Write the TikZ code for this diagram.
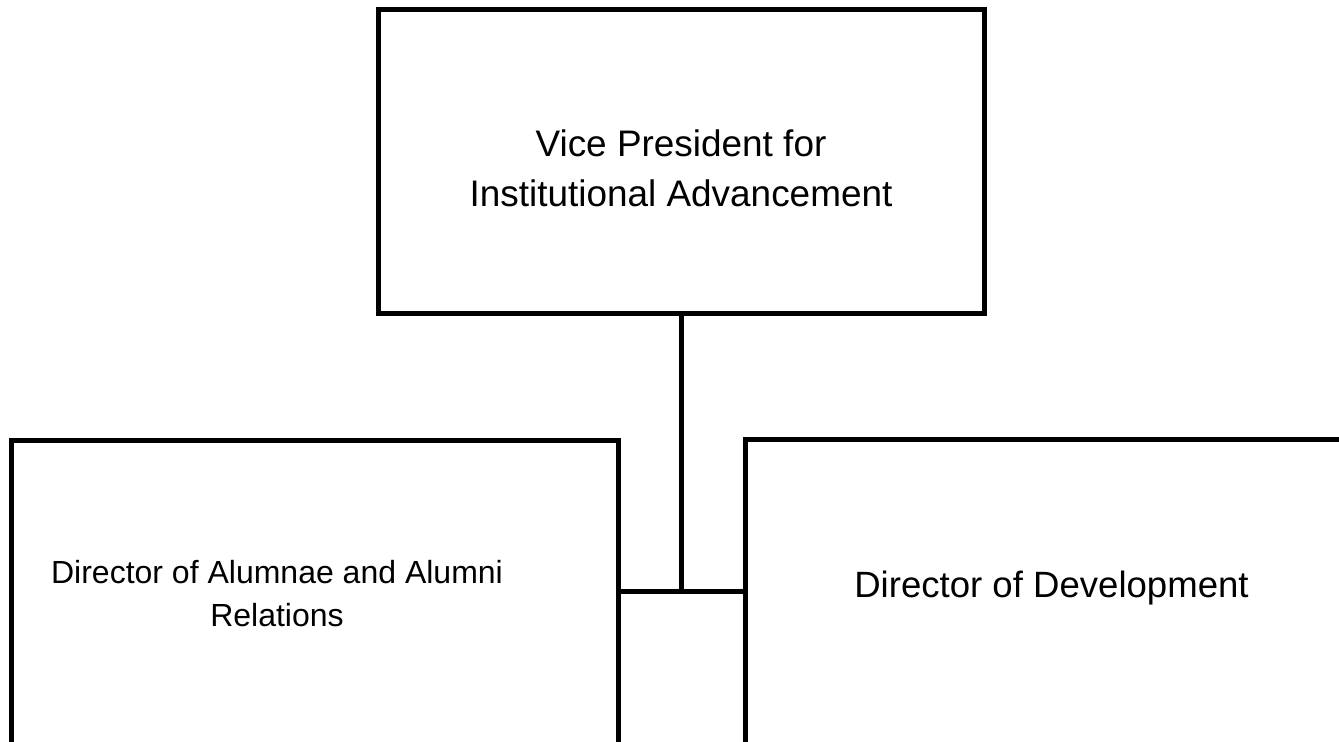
\documentclass[tikz,border=0pt]{standalone}
\usepackage{fontspec}
\setmainfont{Liberation Sans}
\tikzset{
	orgbox/.style={draw, line width=1.42pt, inner sep=0pt},
	orgtext/.style={align=center, inner sep=0pt}
}
\begin{document}
\begin{tikzpicture}[x=0.01cm, y=-0.01cm]
	\useasboundingbox (0,0) rectangle (1339,741);
	\clip (0,0) rectangle (1339,741);
	
	\node[orgbox, minimum width=6.06cm, minimum height=3.03cm] (vp) at (681.5,161.5) {};
	\node[orgbox, minimum width=6.07cm, minimum height=3.2cm] (alumni) at (315,600.5) {};
	\node[orgbox, minimum width=6.15cm, minimum height=3.2cm] (dev) at (1053,600) {};
	
	\node[orgtext, font=\fontsize{10.5}{14.2}\selectfont] (vptext) at (681,168.5) {Vice President for\\Institutional Advancement};
	\node[orgtext, font=\fontsize{9.1}{12.2}\selectfont] (alumnitext) at (277,593.5) {Director of Alumnae and Alumni\\Relations};
	\node[orgtext, font=\fontsize{10.4}{14}\selectfont, anchor=base] (devtext) at (1051.5,597) {Director of Development};
	
	\coordinate (joint) at (681.5,591.5);
	\draw[line width=1.42pt] (vp.south) -- (joint);
	\draw[line width=1.42pt] (alumni.east |- joint) -- (dev.west |- joint);
\end{tikzpicture}
\end{document}
